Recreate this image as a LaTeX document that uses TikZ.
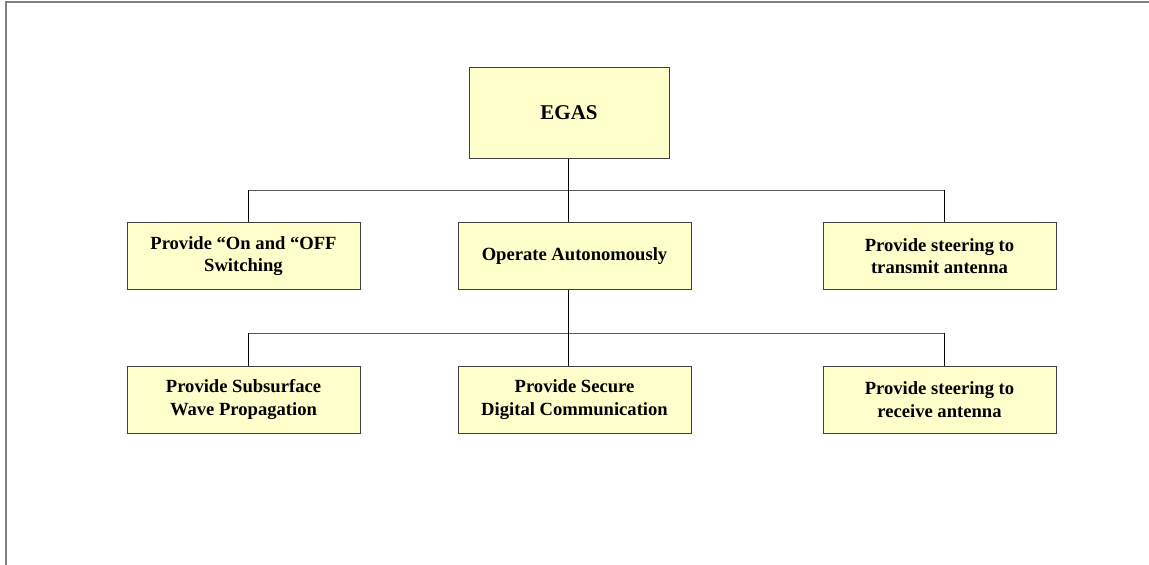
\documentclass[tikz,border=0pt]{standalone}
\usepackage{fontspec}
\setmainfont{Liberation Serif}
\usetikzlibrary{calc}
\definecolor{boxfill}{HTML}{FFFFCC}
\definecolor{boxline}{HTML}{404040}
\definecolor{busline}{HTML}{5A5A5A}
\definecolor{frameline}{HTML}{808080}
\begin{document}
\begin{tikzpicture}[x=1pt,y=-1pt,
  box/.style={draw=boxline, fill=boxfill, line width=1pt, minimum width=233pt, minimum height=67pt, inner sep=0pt, align=center, font=\fontsize{18.6}{22.5}\selectfont\bfseries},
  topbox/.style={box, minimum width=200pt, minimum height=91pt, font=\fontsize{21}{25}\selectfont\bfseries},
  vconn/.style={draw=black, line width=1pt},
  hconn/.style={draw=busline, line width=1pt},
  frame/.style={draw=frameline, line width=2pt}]
\useasboundingbox (0,0) rectangle (1149,565);
\draw[frame] (6,565) -- (6,1.5) -- (1149,1.5);
% nodes
\node[topbox] (egas) at (569,112.5) {EGAS};
\node[box] (l2a) at (243.5,256) {Provide “On and “OFF\\Switching};
\node[box] (l2b) at (574.5,256) {Operate Autonomously};
\node[box] (l2c) at (939.5,256) {Provide steering to\\transmit antenna};
\node[box] (l3a) at (243.5,399.5) {Provide Subsurface\\Wave Propagation};
\node[box] (l3b) at (574.5,399.5) {Provide Secure\\Digital Communication};
\node[box] (l3c) at (939.5,399.5) {Provide steering to\\receive antenna};
% bus coordinates
\coordinate (b1l) at (248,190);
\coordinate (b1m) at (568.5,190);
\coordinate (b1r) at (944,190);
\coordinate (b2l) at (248,333);
\coordinate (b2m) at (568.5,333);
\coordinate (b2r) at (944,333);
% level 1 -> 2
\draw[hconn] (b1l) -- (b1r);
\draw[vconn] (b1m |- egas.south) -- (b1m |- l2b.north);
\draw[vconn] (b1l) -- (b1l |- l2a.north);
\draw[vconn] (b1r) -- (b1r |- l2c.north);
% level 2 -> 3
\draw[hconn] (b2l) -- (b2r);
\draw[vconn] (b2m |- l2b.south) -- (b2m |- l3b.north);
\draw[vconn] (b2l) -- (b2l |- l3a.north);
\draw[vconn] (b2r) -- (b2r |- l3c.north);
\end{tikzpicture}
\end{document}
